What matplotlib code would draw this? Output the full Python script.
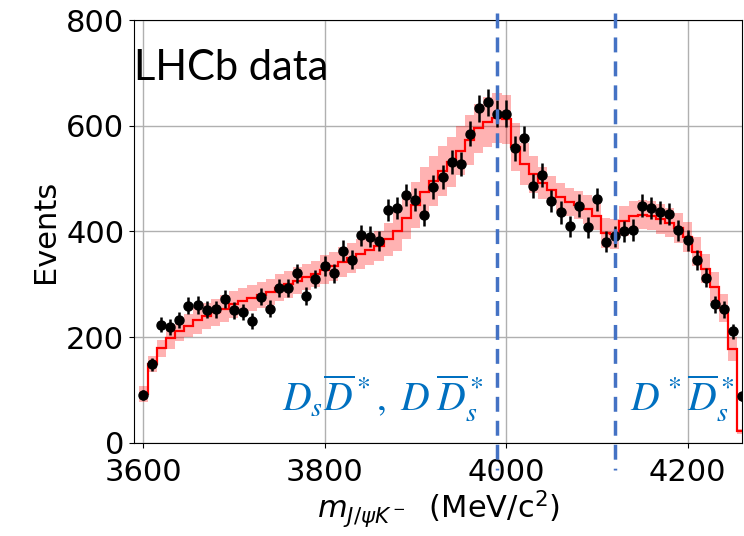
import numpy as np
import matplotlib.pyplot as plt

# J/psi K- invariant mass, 10 MeV bins
mass = np.arange(3600, 4261, 10)

events = [90, 149, 224, 220, 232, 260, 261, 252, 253, 272,
          251, 248, 231, 277, 254, 293, 293, 321, 278, 310,
          335, 321, 364, 347, 393, 390, 382, 440, 445, 469,
          460, 431, 484, 503, 531, 527, 585, 633, 644, 623,
          623, 557, 576, 486, 507, 458, 436, 410, 449, 408,
          461, 381, 391, 400, 403, 449, 444, 436, 434, 402,
          383, 346, 313, 262, 253, 211, 88]

fit = [93, 150, 179, 198, 212, 222, 232, 240, 247, 254,
       262, 268, 274, 280, 286, 294, 300, 307, 314, 320,
       328, 334, 342, 350, 358, 365, 372, 385, 400, 425,
       450, 475, 495, 515, 531, 553, 573, 595, 607, 614,
       612, 560, 528, 508, 492, 478, 465, 456, 450, 442,
       430, 397, 395, 420, 430, 432, 430, 424, 417, 407,
       390, 362, 330, 295, 255, 178, 22]

fit_unc = [15, 15, 16, 20, 20, 22, 25, 25, 25, 25,
           25, 25, 25, 25, 25, 25, 25, 25, 25, 25,
           28, 28, 28, 28, 28, 28, 28, 32, 36, 40,
           43, 47, 47, 47, 47, 47, 47, 47, 47, 47,
           47, 45, 40, 35, 30, 27, 27, 27, 27, 27,
           27, 28, 28, 28, 28, 28, 28, 28, 28, 28,
           28, 28, 28, 28, 26, 22, 5]

thresholds = [3990, 4120]

events = np.array(events, dtype=float)
fit = np.array(fit, dtype=float)
fit_unc = np.array(fit_unc, dtype=float)
edges = np.append(mass - 5, mass[-1] + 5)

fig = plt.figure(figsize=(7.44, 5.36), dpi=100)
ax = fig.add_axes([134 / 744, 93 / 536, 608 / 744, 423 / 536])

ax.stairs(fit + fit_unc, edges, baseline=fit - fit_unc, fill=True,
          color="red", alpha=0.3, lw=0, zorder=2)
ax.stairs(fit, edges, baseline=None, color="red", lw=1.6, zorder=3)
ax.errorbar(mass, events, yerr=np.sqrt(events), fmt="o", color="k",
            ms=6.5, elinewidth=1.8, capsize=0, zorder=4)

ax.set_xlim(3590, 4260)
ax.set_ylim(0, 800)
ax.set_xticks([3600, 3800, 4000, 4200])
ax.set_yticks([0, 200, 400, 600, 800])
ax.tick_params(labelsize=22)
ax.tick_params(axis="x", pad=7.5)
ax.grid(True, color="#b0b0b0", lw=1.0, zorder=0)
ax.set_axisbelow(True)
ax.set_xlabel(r"$m_{J/\psi K^-}$  (MeV/c$^2$)", fontsize=22, labelpad=1)
ax.set_ylabel("Events", fontsize=22)

for t in thresholds:
    ax.plot([t, t], [1.017, -0.065], transform=ax.get_xaxis_transform(),
            color="#4472C4", lw=2.5, linestyle=(0, (4.3, 2.6)),
            clip_on=False, zorder=6)

fig.text(134 / 744, 1 - 80 / 536, "LHCb data", fontsize=30,
         family="Lato", va="baseline", ha="left", zorder=7)
fig.text(282 / 744, 1 - 411 / 536,
         r"$D_s\overline{D}^*,\;D\;\overline{D}_s^*$",
         fontsize=28.5, color="#0070C0", math_fontfamily="stix",
         va="baseline", ha="left", zorder=7)
fig.text(630 / 744, 1 - 411 / 536, r"$D^*\overline{D}_s^*$",
         fontsize=28.5, color="#0070C0", math_fontfamily="stix",
         va="baseline", ha="left", zorder=7)

fig.savefig("out.png", dpi=100)
